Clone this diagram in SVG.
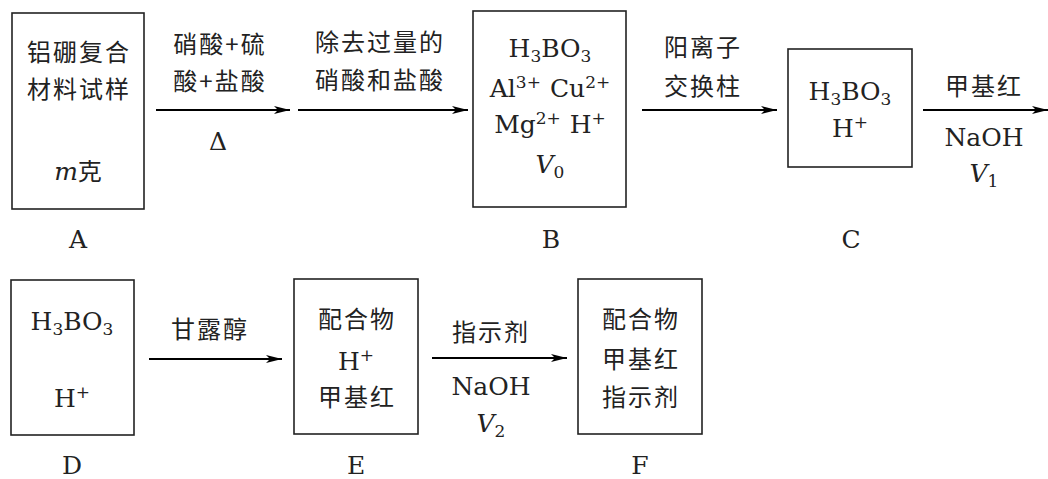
<svg xmlns="http://www.w3.org/2000/svg" width="1048" height="479" viewBox="0 0 1048 479">
<style>
.box{fill:#fff;stroke:#222;stroke-width:1.6}
.cn{font-family:"Noto Sans CJK SC","Noto Sans",sans-serif;font-size:24px;letter-spacing:2px;fill:#222;text-anchor:middle}
.la{font-family:"DejaVu Serif","Liberation Serif",serif;font-size:25px;fill:#222;text-anchor:middle}
.it{font-style:italic}
.s{font-size:17px}
.ln{stroke:#000;stroke-width:2;fill:none;marker-end:url(#ah)}
</style>
<defs>
<marker id="ah" markerUnits="userSpaceOnUse" markerWidth="18" markerHeight="10" refX="16" refY="5" orient="auto">
<path d="M0,1 L16,5 L0,9 L4,5 z" fill="#000"/>
</marker>
</defs>
<g id="connectors">
<line class="ln" x1="156" y1="110" x2="290" y2="110"/>
<line class="ln" x1="298" y1="110" x2="468" y2="110"/>
<line class="ln" x1="642" y1="110" x2="777" y2="110"/>
<line class="ln" x1="923" y1="110" x2="1048" y2="110"/>
<line class="ln" x1="149" y1="359" x2="282" y2="359"/>
<line class="ln" x1="432" y1="358" x2="567" y2="358"/>
<text class="cn" x="220" y="53">硝酸+硫</text>
<text class="cn" x="220" y="90">酸+盐酸</text>
<text class="la" x="218" y="150">Δ</text>
<text class="cn" x="380" y="51">除去过量的</text>
<text class="cn" x="380" y="89">硝酸和盐酸</text>
<text class="cn" x="703" y="56">阳离子</text>
<text class="cn" x="703" y="95">交换柱</text>
<text class="cn" x="984" y="95">甲基红</text>
<text class="la" x="984" y="146">NaOH</text>
<text class="la" x="984" y="182"><tspan class="it">V</tspan><tspan class="s" dy="5">1</tspan></text>
<text class="cn" x="210" y="338">甘露醇</text>
<text class="cn" x="491" y="341">指示剂</text>
<text class="la" x="491" y="395">NaOH</text>
<text class="la" x="491" y="432"><tspan class="it">V</tspan><tspan class="s" dy="5">2</tspan></text>
</g>
<g id="A">
<rect class="box" x="12" y="13" width="132" height="196"/>
<text class="cn" x="79" y="61">铝硼复合</text>
<text class="cn" x="79" y="98">材料试样</text>
<text class="cn" x="79" y="180"><tspan class="la it" style="letter-spacing:0">m</tspan>克</text>
<text class="la" x="78" y="248">A</text>
</g>
<g id="B">
<rect class="box" x="473" y="11" width="153" height="196"/>
<text class="la" x="550" y="57">H<tspan class="s" dy="5">3</tspan><tspan dy="-5">BO</tspan><tspan class="s" dy="5">3</tspan></text>
<text class="la" x="550" y="97">Al<tspan class="s" dy="-9">3+</tspan><tspan dx="9" dy="9">Cu</tspan><tspan class="s" dy="-9">2+</tspan></text>
<text class="la" x="550" y="133">Mg<tspan class="s" dy="-9">2+</tspan><tspan dx="9" dy="9">H</tspan><tspan class="s" dy="-9">+</tspan></text>
<text class="la" x="550" y="173"><tspan class="it">V</tspan><tspan class="s" dy="5">0</tspan></text>
<text class="la" x="551" y="248">B</text>
</g>
<g id="C">
<rect class="box" x="788" y="49" width="124" height="118"/>
<text class="la" x="850" y="100">H<tspan class="s" dy="5">3</tspan><tspan dy="-5">BO</tspan><tspan class="s" dy="5">3</tspan></text>
<text class="la" x="850" y="137">H<tspan class="s" dy="-9">+</tspan></text>
<text class="la" x="851" y="248">C</text>
</g>
<g id="D">
<rect class="box" x="11" y="280" width="123" height="155"/>
<text class="la" x="72" y="330">H<tspan class="s" dy="5">3</tspan><tspan dy="-5">BO</tspan><tspan class="s" dy="5">3</tspan></text>
<text class="la" x="72" y="407">H<tspan class="s" dy="-9">+</tspan></text>
<text class="la" x="72" y="474">D</text>
</g>
<g id="E">
<rect class="box" x="294" y="279" width="124" height="155"/>
<text class="cn" x="357" y="328">配合物</text>
<text class="la" x="356" y="370">H<tspan class="s" dy="-9">+</tspan></text>
<text class="cn" x="357" y="406">甲基红</text>
<text class="la" x="356" y="474">E</text>
</g>
<g id="F">
<rect class="box" x="578" y="279" width="124" height="155"/>
<text class="cn" x="641" y="328">配合物</text>
<text class="cn" x="641" y="368">甲基红</text>
<text class="cn" x="641" y="406">指示剂</text>
<text class="la" x="640" y="474">F</text>
</g>
</svg>
